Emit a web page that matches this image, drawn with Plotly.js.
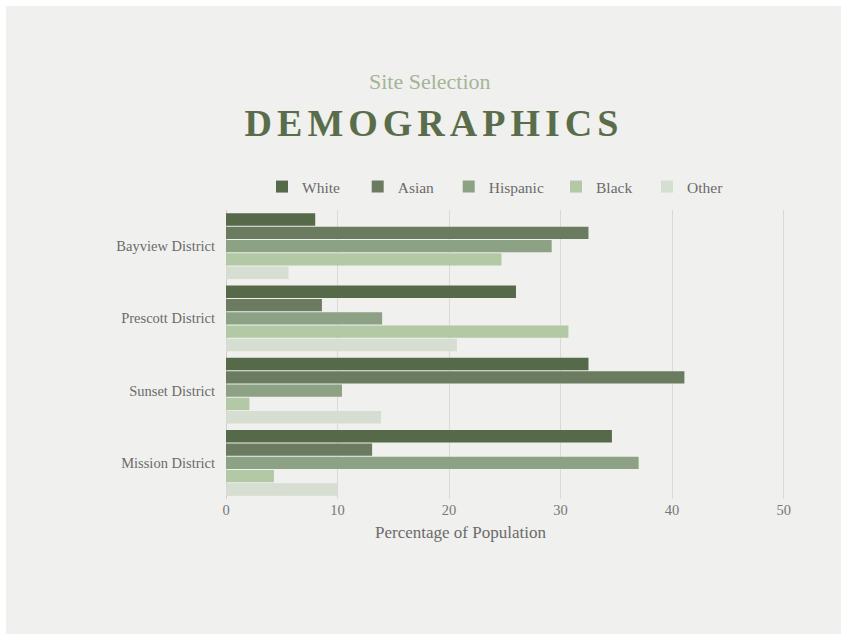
<!DOCTYPE html>
<html>
<head>
<meta charset="utf-8">
<script src="https://cdn.plot.ly/plotly-3.0.1.min.js"></script>
<style>
  html, body { margin: 0; padding: 0; background: #ffffff; }
  #chart { position: absolute; left: 6px; top: 6px; width: 835px; height: 628px; }
  #chart .gtitle { letter-spacing: 5px; }
</style>
</head>
<body>
<div id="chart"></div>
<script>
const districts = ["Bayview District", "Prescott District", "Sunset District", "Mission District"];
const seriesNames = ["White", "Asian", "Hispanic", "Black", "Other"];
const white    = [8.0, 26.0, 32.5, 34.6];
const asian    = [32.5, 8.6, 41.1, 13.1];
const hispanic = [29.2, 14.0, 10.4, 37.0];
const black    = [24.7, 30.7, 2.1, 4.3];
const other    = [5.6, 20.7, 13.9, 10.0];
const xTicks   = [0, 10, 20, 30, 40, 50];

const seriesValues = [white, asian, hispanic, black, other];
const colors = ["#566a4a", "#6a7b5f", "#8da184", "#b3c8a5", "#d6ddd1"];
const legendIds = ["legend", "legend2", "legend3", "legend4", "legend5"];
const legendX = [256, 351.7, 442.7, 550, 641];
const FONT = "Liberation Serif, Times New Roman, serif";
const W = 835, H = 628;

const traces = seriesNames.map((name, i) => ({
  type: "bar",
  orientation: "h",
  name: name,
  y: districts,
  x: seriesValues[i],
  marker: { color: colors[i] },
  legend: legendIds[i],
  hoverinfo: "x+name"
}));

const layout = {
  width: W,
  height: H,
  paper_bgcolor: "#f0f0ee",
  plot_bgcolor: "#f0f0ee",
  margin: { l: 220, r: 54, t: 204, b: 135 },
  barmode: "group",
  bargap: 0.08,
  bargroupgap: 0.07,
  font: { family: FONT, color: "#6b6b6b", size: 14 },
  title: {
    text: "DEMOGRAPHICS",
    font: { family: FONT, size: 38, color: "#5a6d4b", weight: "bold" },
    x: 428 / W, xanchor: "center", xref: "container",
    y: 1 - 117 / H, yanchor: "middle", yref: "container"
  },
  showlegend: true,
  xaxis: {
    range: [0, 50.3],
    tickvals: xTicks,
    ticktext: xTicks.map(String),
    showgrid: true,
    gridcolor: "#d9d9d6",
    gridwidth: 1,
    zeroline: true,
    zerolinecolor: "#cfcfcc",
    zerolinewidth: 1,
    showline: false,
    ticks: "",
    ticklabelstandoff: 0,
    tickfont: { family: FONT, size: 14.5, color: "#777777" },
    fixedrange: true
  },
  yaxis: {
    autorange: "reversed",
    showgrid: false,
    zeroline: false,
    showline: false,
    ticks: "",
    ticklabelstandoff: 10,
    tickfont: { family: FONT, size: 14.5, color: "#6b6b6b" },
    fixedrange: true
  },
  annotations: [
    {
      text: "Site Selection",
      xref: "paper", yref: "paper",
      x: (424 - 220) / 561, y: 1.443, xanchor: "center", yanchor: "middle",
      showarrow: false,
      font: { family: FONT, size: 22, color: "#a4b598" }
    },
    {
      text: "Percentage of Population",
      xref: "paper", yref: "paper",
      x: (454 - 220) / 561, y: -0.1176, xanchor: "center", yanchor: "middle",
      showarrow: false,
      font: { family: FONT, size: 17, color: "#6b6b6b" }
    }
  ]
};

legendIds.forEach((id, i) => {
  layout[id] = {
    orientation: "h",
    x: legendX[i] / W, xanchor: "left", xref: "container",
    y: 1 - 181 / H, yanchor: "middle", yref: "container",
    font: { family: FONT, size: 15.5, color: "#6b6b6b" },
    bgcolor: "rgba(0,0,0,0)"
  };
});

Plotly.newPlot("chart", traces, layout, { displayModeBar: false, responsive: false });
</script>
</body>
</html>
